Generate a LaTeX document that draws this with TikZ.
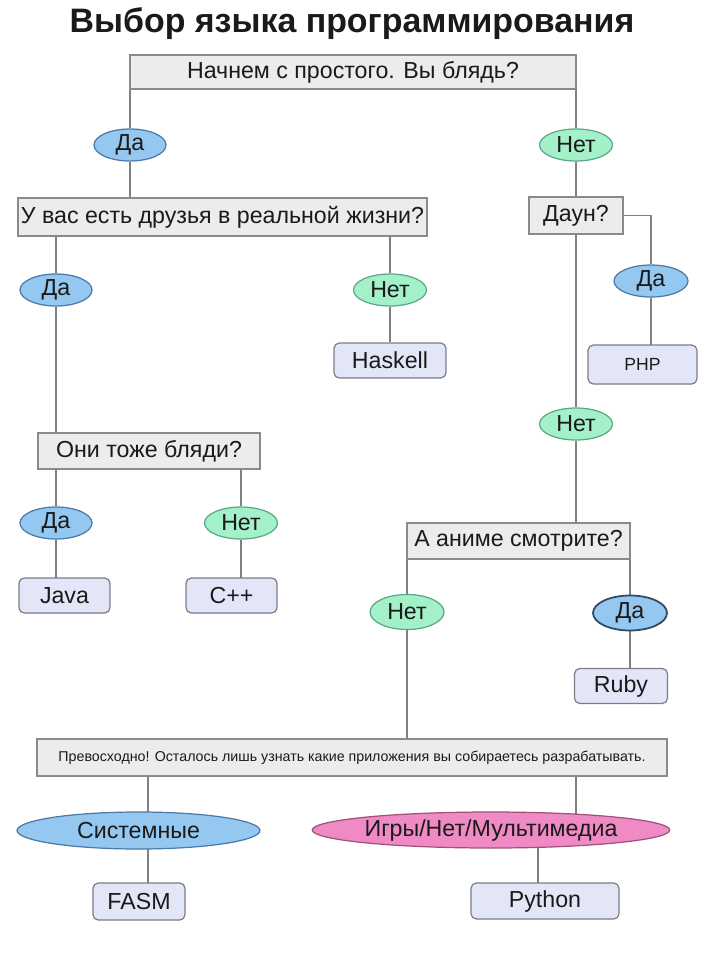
\documentclass[tikz,border=0pt]{standalone}
\usepackage{fontspec}
\setmainfont{Liberation Sans}
\usetikzlibrary{shapes.geometric, backgrounds}

\definecolor{boxfill}{HTML}{ECECEC}
\definecolor{boxline}{HTML}{8A8A8A}
\definecolor{leaffill}{HTML}{E3E6F7}
\definecolor{leafline}{HTML}{7C7C8C}
\definecolor{yesfill}{HTML}{95C8F0}
\definecolor{yesline}{HTML}{4A7AA8}
\definecolor{nofill}{HTML}{A4F0C8}
\definecolor{noline}{HTML}{5AA888}
\definecolor{pinkfill}{HTML}{F08AC4}
\definecolor{pinkline}{HTML}{A0507A}
\definecolor{linkline}{HTML}{808080}
\definecolor{inktext}{HTML}{1A1A1A}

\begin{document}
\begin{tikzpicture}[
    x=0.02cm, y=-0.02cm,
    every node/.style={text=inktext, font=\fontsize{13.2}{15}\selectfont},
    question_style/.style={draw=boxline, fill=boxfill, line width=0.7pt, inner sep=0pt},
    leaf_style/.style={draw=leafline, fill=leaffill, line width=0.7pt, rounded corners=3pt, inner sep=0pt},
    yes_style/.style={ellipse, draw=yesline, fill=yesfill, line width=0.7pt, inner sep=0pt, minimum width=1.44cm, minimum height=0.64cm},
    no_style/.style={ellipse, draw=noline, fill=nofill, line width=0.7pt, inner sep=0pt, minimum width=1.46cm, minimum height=0.64cm},
    link_style/.style={draw=linkline, line width=0.7pt}
]

    % Page
    \useasboundingbox (0,0) rectangle (704,960);
    \node[font=\bfseries\fontsize{19.3}{22}\selectfont] (title) at (352,24) {Выбор языка программирования};

    % Questions
    \node[question_style, minimum width=8.92cm, minimum height=0.68cm] (q_start) at (353,72) {Начнем с простого. Вы блядь?};
    \node[question_style, minimum width=8.18cm, minimum height=0.76cm] (q_friends) at (222.5,217) {У вас есть друзья в реальной жизни?};
    \node[question_style, minimum width=1.88cm, minimum height=0.74cm] (q_down) at (576,215.5) {Даун?};
    \node[question_style, minimum width=4.44cm, minimum height=0.72cm] (q_too) at (149,451) {Они тоже бляди?};
    \node[question_style, minimum width=4.46cm, minimum height=0.72cm] (q_anime) at (518.5,541) {А аниме смотрите?};
    \node[question_style, minimum width=12.6cm, minimum height=0.74cm, font=\fontsize{8.1}{10}\selectfont] (q_apps) at (352,757.5) {Превосходно! Осталось лишь узнать какие приложения вы собираетесь разрабатывать.};

    % Answers
    \node[yes_style] (yes_start) at (130,145) {Да};
    \node[no_style] (no_start) at (576,145) {Нет};
    \node[yes_style] (yes_friends) at (56,290) {Да};
    \node[no_style] (no_friends) at (390,290) {Нет};
    \node[yes_style, minimum width=1.48cm] (yes_down) at (651,281) {Да};
    \node[no_style] (no_down) at (576,424) {Нет};
    \node[yes_style] (yes_too) at (56,523) {Да};
    \node[no_style] (no_too) at (241,523) {Нет};
    \node[no_style, minimum width=1.48cm, minimum height=0.7cm] (no_anime) at (407,612) {Нет};
    \node[yes_style, draw=yesline!60!black, line width=1pt, minimum width=1.48cm, minimum height=0.7cm] (yes_anime) at (630,613) {Да};
    \node[yes_style, minimum width=4.86cm, minimum height=0.74cm] (sys) at (138.5,830.5) {Системные};
    \node[ellipse, draw=pinkline, fill=pinkfill, line width=0.7pt, inner sep=0pt, minimum width=7.04cm, minimum height=0.72cm] (games) at (491,830) {Игры/Нет/Мультимедиа};

    % Languages
    \node[leaf_style, minimum width=2.24cm, minimum height=0.70cm] (haskell) at (390,360.5) {Haskell};
    \node[leaf_style, minimum width=2.18cm, minimum height=0.78cm, font=\fontsize{10}{12}\selectfont] (php) at (642.5,364.5) {PHP};
    \node[leaf_style, minimum width=1.82cm, minimum height=0.70cm] (java) at (64.5,595.5) {Java};
    \node[leaf_style, minimum width=1.82cm, minimum height=0.70cm] (cpp) at (231.5,595.5) {C++};
    \node[leaf_style, minimum width=1.86cm, minimum height=0.70cm] (ruby) at (621,686) {Ruby};
    \node[leaf_style, minimum width=1.84cm, minimum height=0.74cm] (fasm) at (139,901.5) {FASM};
    \node[leaf_style, minimum width=2.96cm, minimum height=0.72cm] (python) at (545,901) {Python};

    % Stems of the last box
    \coordinate (sys_stem) at (148,830);
    \coordinate (games_stem) at (576,830);
    \coordinate (python_stem) at (538,830);

    % Links, behind the nodes
    \begin{pgfonlayer}{background}
        \draw[link_style] (yes_start |- q_start) -- (yes_start) -- (yes_start |- q_friends);
        \draw[link_style] (no_start |- q_start) -- (no_start) -- (q_down);
        \draw[link_style] (yes_friends |- q_friends) -- (yes_friends) -- (yes_friends |- q_too);
        \draw[link_style] (no_friends |- q_friends) -- (no_friends) -- (haskell);
        \draw[link_style] (q_down) -- (q_down -| yes_down) -- (yes_down) -- (yes_down |- php);
        \draw[link_style] (q_down) -- (no_down) -- (no_down |- q_anime);
        \draw[link_style] (yes_too |- q_too) -- (yes_too) -- (yes_too |- java);
        \draw[link_style] (no_too |- q_too) -- (no_too) -- (no_too |- cpp);
        \draw[link_style] (no_anime |- q_anime) -- (no_anime) -- (no_anime |- q_apps);
        \draw[link_style] (yes_anime |- q_anime) -- (yes_anime) -- (yes_anime |- ruby);
        \draw[link_style] (sys_stem |- q_apps) -- (sys_stem) -- (sys_stem |- fasm);
        \draw[link_style] (games_stem |- q_apps) -- (games_stem);
        \draw[link_style] (python_stem) -- (python_stem |- python);
    \end{pgfonlayer}

\end{tikzpicture}
\end{document}
